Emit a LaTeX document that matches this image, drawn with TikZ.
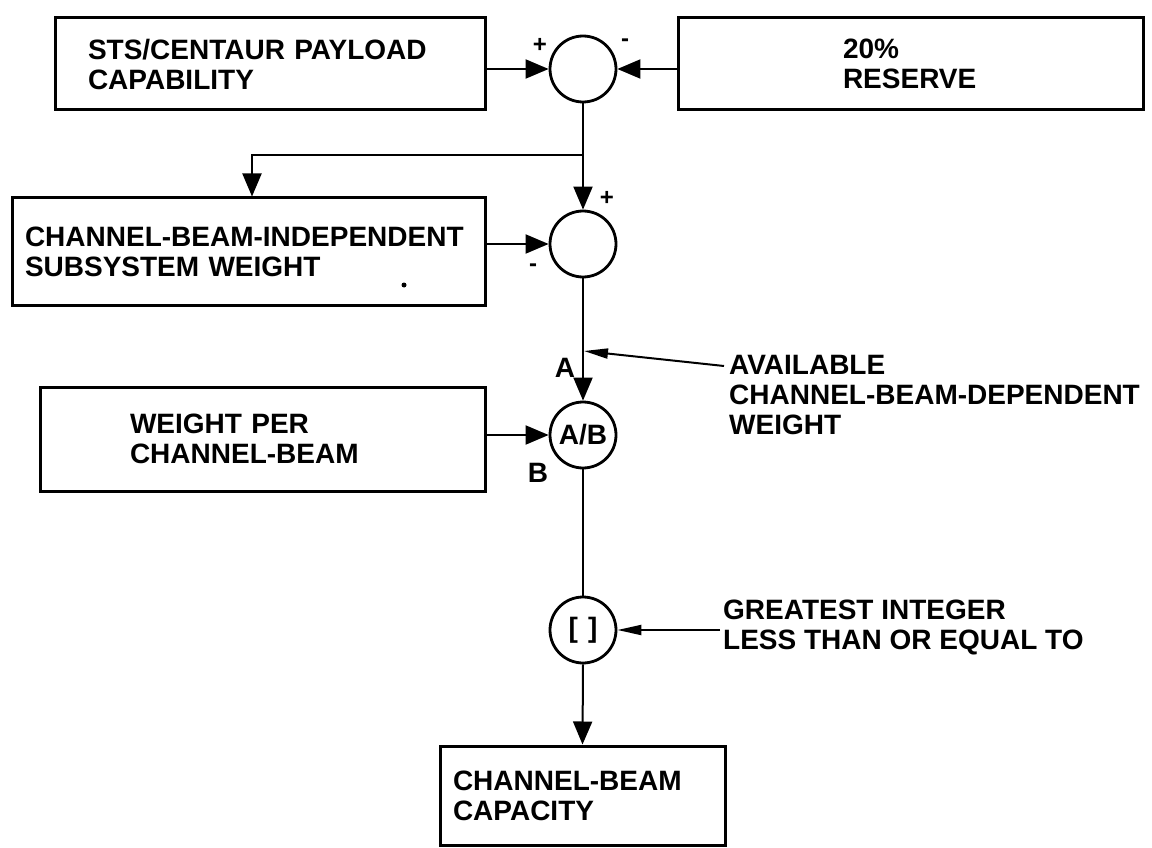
\documentclass[tikz,border=0pt]{standalone}
\usepackage{fontspec}
\setmainfont{Liberation Sans}
\usetikzlibrary{arrows.meta}
\begin{document}
\begin{tikzpicture}[x=1pt,y=-1pt,
  blk/.style={draw, line width=3pt, rectangle, align=left, inner ysep=0pt,
    font=\bfseries\fontsize{28}{30}\selectfont},
  sum/.style={draw, circle, line width=2.8pt, minimum size=66pt, inner sep=0pt,
    font=\bfseries\fontsize{28}{30}\selectfont},
  con/.style={line width=2pt},
  arr/.style={con, -{Triangle[length=23pt,width=19pt]}},
  thinarr/.style={con, -{Triangle[length=24pt,width=10pt]}},
  lbl/.style={font=\bfseries\fontsize{28}{30}\selectfont, align=left, inner sep=0pt},
  sgn/.style={font=\bfseries\fontsize{24}{24}\selectfont, inner sep=0pt}]
\useasboundingbox (0,0) rectangle (1152,848);

% boxes
\node[blk, minimum width=430pt, minimum height=92pt, inner xsep=33pt, text width=364pt] (b1) at (270,64) {STS/CENTAUR PAYLOAD\\CAPABILITY};
\node[blk, minimum width=465pt, minimum height=92pt, inner xsep=165pt, text width=135pt] (b2) at (910.5,64) {20\%\\RESERVE};
\node[blk, minimum width=473pt, minimum height=107pt, inner xsep=13pt, text width=447pt] (b3) at (248.5,251.5) {CHANNEL-BEAM-INDEPENDENT\\SUBSYSTEM WEIGHT};
\node[blk, minimum width=445pt, minimum height=104pt, inner xsep=90pt, text width=265pt] (b4) at (262.5,439) {WEIGHT PER\\CHANNEL-BEAM};
\node[blk, minimum width=285pt, minimum height=99pt, inner xsep=13pt, text width=259pt] (b5) at (582.5,795.5) {CHANNEL-BEAM\\CAPACITY};

% operators
\node[sum] (c1) at (583,69) {};
\node[sum] (c2) at (583,244) {};
\node[sum] (c3) at (583,435) {A/B};
\node[sum] (c4) at (583,630) {[\hspace{10pt}]};

% connectors
\draw[arr] (b1.east |- c1.west) -- (c1.west);
\draw[arr] (b2.west |- c1.east) -- (c1.east);
\coordinate (br) at (583,155);
\draw[con] (c1.south) -- (br);
\draw[arr] (br) -- (c2.north);
\draw[arr] (br) -| ([xshift=3.5pt]b3.north);
\draw[arr] (b3.east |- c2.west) -- (c2.west);
\draw[arr] (c2.south) -- (c3.north);
\draw[arr] (b4.east |- c3.west) -- (c3.west);
\draw[con] (c3.south) -- (c4.north);
\draw[arr] (c4.south) -- (b5.north);

% signs and letters
\node[sgn] (p1) at (540,45) {+};
\node[sgn] (m1) at (625,43) {-};
\node[sgn] (p2) at (607,198) {+};
\node[sgn] (m2) at (533,268) {-};
\node[lbl] (la) at (565,368) {A};
\node[lbl] (lb) at (538,473) {B};
\fill (404,285) circle (2.5pt);

% side notes
\node[lbl, anchor=west] (avail) at (729,395) {AVAILABLE\\CHANNEL-BEAM-DEPENDENT\\WEIGHT};
\coordinate (atip) at (584,351);
\coordinate (atail) at (724,366);
\draw[thinarr] (atail) -- (atip);
\node[lbl, anchor=west] (gi) at (723,627) {GREATEST INTEGER\\LESS THAN OR EQUAL TO};
\draw[thinarr] ([xshift=-3pt]gi.west |- c4.east) -- (c4.east);
\end{tikzpicture}
\end{document}
